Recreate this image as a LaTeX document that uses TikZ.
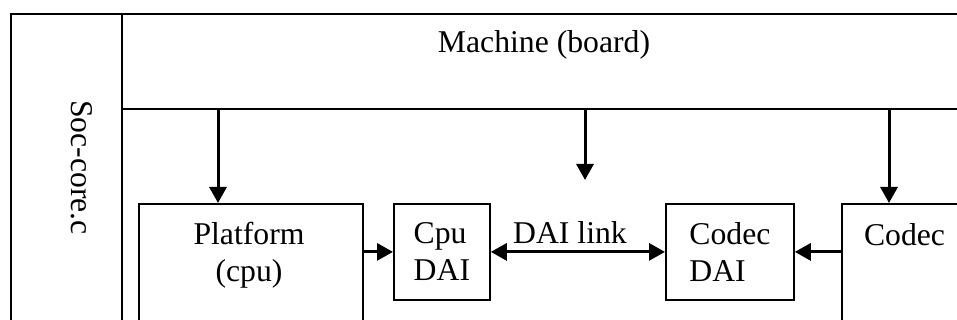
\documentclass[tikz,border=0pt]{standalone}
\usepackage{fontspec}
\setmainfont{Liberation Serif}
\usetikzlibrary{arrows.meta}
\begin{document}
\begin{tikzpicture}[x=1pt,y=-1pt,
  box/.style={draw, line width=1.8pt, inner sep=0pt, rectangle},
  txt/.style={font=\fontsize{31.7}{37}\selectfont, inner sep=0pt},
  arr/.style={line width=3pt, -{Triangle[length=16pt,width=17pt]}},
  darr/.style={line width=3pt, {Triangle[length=16pt,width=17pt]}-{Triangle[length=16pt,width=17pt]}}]
\useasboundingbox (0,0) rectangle (957,320);
\clip (0,0) rectangle (957,320);
\node[box, anchor=north west, minimum width=111pt, minimum height=330pt] (soc) at (10,13) {};
\node[box, anchor=north west, minimum width=860pt, minimum height=95pt] (machine) at (121,13) {};
\node[box, anchor=north west, minimum width=224pt, minimum height=200pt] (plat) at (138,203) {};
\node[box, txt, align=left, anchor=north west, minimum width=96pt, minimum height=96pt] (cpudai) at (393,203) {Cpu\\DAI};
\node[box, txt, align=left, anchor=north west, minimum width=128pt, minimum height=96pt] (codecdai) at (665,203) {Codec\\DAI};
\node[box, anchor=north west, minimum width=127pt, minimum height=200pt] (codec) at (841,203) {};
\node[txt, anchor=base] (machlbl) at (544,53) {Machine (board)};
\node[txt, anchor=base, rotate=-90] (soclbl) at (71,167.5) {Soc-core.c};
\node[txt, anchor=north, align=center] (platlbl) at (249,221.5) {Platform\\(cpu)};
\node[txt, anchor=base] (codeclbl) at (904.5,245) {Codec};
\node[txt, anchor=base] (dailbl) at (570,243) {DAI link};
\coordinate (a1) at (218,108);
\coordinate (a2) at (585,108);
\coordinate (a2e) at (585,180);
\coordinate (a3) at (889,108);
\draw[arr] (a1) -- (a1 |- plat.north);
\draw[arr] (a2) -- (a2e);
\draw[arr] (a3) -- (a3 |- codec.north);
\draw[arr] (cpudai.west -| plat.east) -- (cpudai.west);
\draw[darr] (cpudai.east) -- (codecdai.west);
\draw[arr] (codecdai.east -| codec.west) -- (codecdai.east);
\end{tikzpicture}
\end{document}
